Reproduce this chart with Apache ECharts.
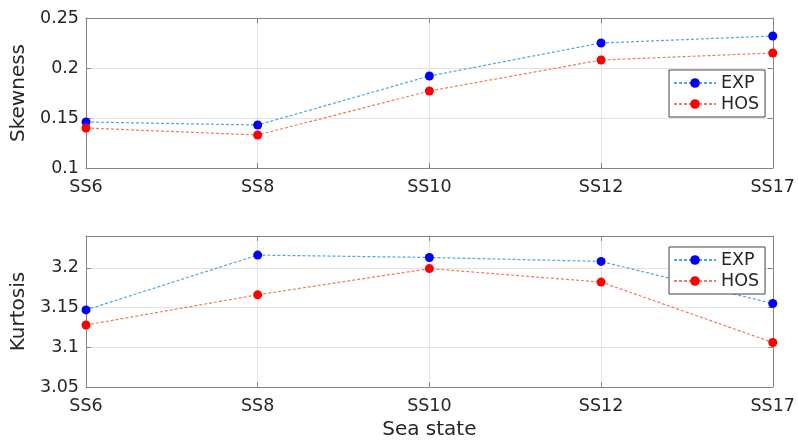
<!DOCTYPE html>
<html>
<head>
<meta charset="utf-8">
<script src="https://cdn.jsdelivr.net/npm/echarts@6/dist/echarts.min.js"></script>
<style>
html,body{margin:0;padding:0;background:#fff;}
#c{width:798px;height:441px;}
</style>
</head>
<body>
<div id="c"></div>
<script>
const categories = ['SS6', 'SS8', 'SS10', 'SS12', 'SS17'];
const skewExp = [0.146, 0.143, 0.192, 0.225, 0.232];
const skewHos = [0.140, 0.133, 0.177, 0.208, 0.215];
const kurtExp = [3.147, 3.216, 3.213, 3.208, 3.155];
const kurtHos = [3.128, 3.166, 3.199, 3.182, 3.106];
const skewTicks = {min: 0.1, max: 0.25, interval: 0.05};
const kurtTicks = {min: 3.05, max: 3.24, interval: 0.05};

const FONT = 'DejaVu Sans';
const TXT = '#262626';
const BOX = '#858585';
const GRIDC = '#e3e3e3';
const EXP_LINE = '#4DA6E8', EXP_MARK = '#0000FF';
const HOS_LINE = '#F07C5A', HOS_MARK = '#FF0000';

function xAxes(gi) {
  return [
    {type: 'category', gridIndex: gi, data: categories, boundaryGap: false, position: 'bottom',
     axisLine: {lineStyle: {color: BOX, width: 1}},
     axisTick: {inside: true, length: 5, lineStyle: {color: BOX}},
     axisLabel: {fontFamily: FONT, fontSize: 17.5, color: TXT, margin: 10},
     splitLine: {show: true, lineStyle: {color: GRIDC, width: 1}},
     name: gi === 1 ? 'Sea state' : '', nameLocation: 'middle', nameGap: 33,
     nameTextStyle: {fontFamily: FONT, fontSize: 20, color: TXT}},
    {type: 'category', gridIndex: gi, data: categories, boundaryGap: false, position: 'top',
     axisLine: {lineStyle: {color: BOX, width: 1}},
     axisTick: {inside: true, length: 5, lineStyle: {color: BOX}},
     axisLabel: {show: false}, splitLine: {show: false}}
  ];
}
function yAxes(gi, t, name) {
  return [
    {type: 'value', gridIndex: gi, position: 'left', min: t.min, max: t.max, interval: t.interval,
     axisLine: {show: true, lineStyle: {color: BOX, width: 1}},
     axisTick: {show: true, inside: true, length: 5, lineStyle: {color: BOX}},
     axisLabel: {fontFamily: FONT, fontSize: 17.5, color: TXT, margin: 7, showMaxLabel: gi === 0},
     splitLine: {show: true, lineStyle: {color: GRIDC, width: 1}},
     name: name, nameLocation: 'middle', nameGap: 56,
     nameTextStyle: {fontFamily: FONT, fontSize: 20, color: TXT}},
    {type: 'value', gridIndex: gi, position: 'right', min: t.min, max: t.max, interval: t.interval,
     axisLine: {show: true, lineStyle: {color: BOX, width: 1}},
     axisTick: {show: true, inside: true, length: 5, lineStyle: {color: BOX}},
     axisLabel: {show: false}, splitLine: {show: false}}
  ];
}
function ser(name, data, xi, yi, lineC, markC) {
  return {
    name: name, type: 'line', xAxisIndex: xi, yAxisIndex: yi, data: data,
    symbol: 'circle', symbolSize: 9, animation: false,
    lineStyle: {color: lineC, width: 1.2, type: [3, 2]},
    itemStyle: {color: markC}
  };
}
function legend(top) {
  return {
    orient: 'vertical', left: 669, top: top, data: ['EXP', 'HOS'],
    backgroundColor: '#fff', borderColor: '#444', borderWidth: 1,
    padding: [3, 6, 3, 4], itemWidth: 42, itemHeight: 12, itemGap: 1,
    textStyle: {fontFamily: FONT, fontSize: 17.5, lineHeight: 20, color: TXT, padding: [0, 0, 0, 0]},
    selectedMode: false
  };
}

const chart = echarts.init(document.getElementById('c'), null, {renderer: 'canvas'});
chart.setOption({
  backgroundColor: '#fff',
  animation: false,
  grid: [
    {left: 86, top: 18, width: 688, height: 150},
    {left: 86, top: 236, width: 688, height: 151}
  ],
  xAxis: [...xAxes(0), ...xAxes(1)],
  yAxis: [...yAxes(0, skewTicks, 'Skewness'), ...yAxes(1, kurtTicks, 'Kurtosis')],
  legend: [legend(70), legend(247)],
  series: [
    ser('EXP', skewExp, 0, 0, EXP_LINE, EXP_MARK),
    ser('HOS', skewHos, 0, 0, HOS_LINE, HOS_MARK),
    ser('EXP', kurtExp, 2, 2, EXP_LINE, EXP_MARK),
    ser('HOS', kurtHos, 2, 2, HOS_LINE, HOS_MARK)
  ]
});
</script>
</body>
</html>
